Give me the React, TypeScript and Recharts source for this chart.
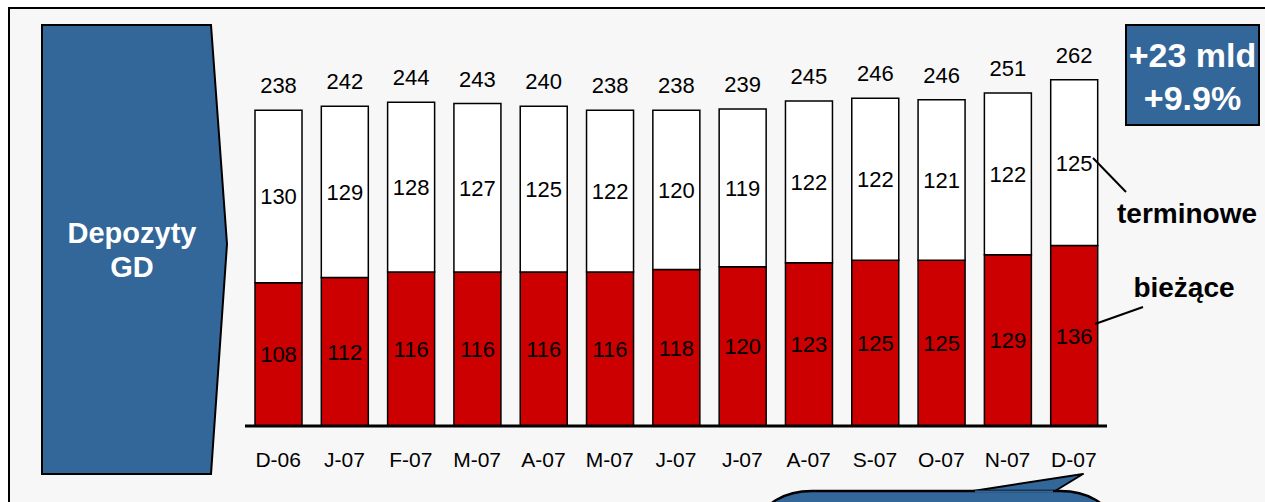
import React from 'react';
import { BarChart, Bar, XAxis, YAxis, LabelList } from 'recharts';

const months = ['D-06', 'J-07', 'F-07', 'M-07', 'A-07', 'M-07', 'J-07', 'J-07', 'A-07', 'S-07', 'O-07', 'N-07', 'D-07'];
const current = [108, 112, 116, 116, 116, 116, 118, 120, 123, 125, 125, 129, 136];
const term = [130, 129, 128, 127, 125, 122, 120, 119, 122, 122, 121, 122, 125];
const totals = [238, 242, 244, 243, 240, 238, 238, 239, 245, 246, 246, 251, 262];

const data = months.map((m, i) => ({ idx: i, month: m, current: current[i], term: term[i], total: totals[i] }));

const FONT = '"Liberation Sans", Arial, sans-serif';
const BLUE = '#336699';

function box(props: any) {
  const vb = props.viewBox && typeof props.viewBox.x === 'number' ? props.viewBox : props;
  return { x: Number(vb.x), y: Number(vb.y), w: Number(vb.width), h: Number(vb.height) };
}

const centerLabel = (props: any) => {
  const { x, y, w, h } = box(props);
  return (
    <text x={x + w / 2} y={y + h / 2} dy={8} textAnchor="middle" fill="#000" fontSize={22} fontFamily={FONT}>
      {props.value}
    </text>
  );
};

const topLabel = (props: any) => {
  const { x, y, w } = box(props);
  return (
    <text x={x + w / 2} y={y - 17} textAnchor="middle" fill="#000" fontSize={22} fontFamily={FONT}>
      {props.value}
    </text>
  );
};

export default function App() {
  return (
    <div style={{ position: 'absolute', left: 0, top: 0, width: 1265, height: 502, background: '#fff', overflow: 'hidden', fontFamily: FONT }}>
      <svg width={1265} height={502} style={{ position: 'absolute', left: 0, top: 0 }}>
        <rect x={9} y={8} width={1300} height={600} fill="#f7f7f7" stroke="#000" strokeWidth={2} />
        <polygon points="42,25 211,25 227,244 211,474 42,474" fill={BLUE} stroke="#000" strokeWidth={2} />
        <text x={132} y={243} textAnchor="middle" fill="#fff" fontWeight="bold" fontSize={29} fontFamily={FONT}>Depozyty</text>
        <text x={132} y={277} textAnchor="middle" fill="#fff" fontWeight="bold" fontSize={29} fontFamily={FONT}>GD</text>
        <rect x={1126} y={25} width={133} height={100} fill={BLUE} stroke="#000" strokeWidth={2} />
        <text x={1192.5} y={67} textAnchor="middle" fill="#fff" fontWeight="bold" fontSize={34} fontFamily={FONT}>+23 mld</text>
        <text x={1192.5} y={110} textAnchor="middle" fill="#fff" fontWeight="bold" fontSize={34} fontFamily={FONT}>+9.9%</text>
        <path d="M 973 491 L 1083 474 L 1055 491 Z" fill={BLUE} stroke="#000" strokeWidth={2} strokeLinejoin="round" />
        <rect x={762} y={491} width={348} height={80} rx={50} ry={30} fill={BLUE} stroke="#000" strokeWidth={2.5} />
        <path d="M 975 491.5 L 1053 491.5" stroke={BLUE} strokeWidth={2} />
      </svg>
      <div style={{ position: 'absolute', left: 0, top: 0 }}>
        <BarChart width={1265} height={502} data={data} margin={{ top: 28, right: 158, bottom: 26, left: 245 }} barSize={47}>
          <XAxis
            dataKey="idx"
            type="category"
            height={50}
            tickLine={false}
            tickSize={6}
            tickMargin={20}
            axisLine={{ stroke: '#000', strokeWidth: 3 }}
            tickFormatter={(v: number) => months[v]}
            tick={{ fill: '#000', fontSize: 21, fontFamily: FONT }}
            interval={0}
          />
          <YAxis hide width={0} domain={[0, 300]} type="number" />
          <Bar dataKey="current" stackId="a" fill="#cc0000" stroke="#000" strokeWidth={1.5} isAnimationActive={false}>
            <LabelList dataKey="current" content={centerLabel} />
          </Bar>
          <Bar dataKey="term" stackId="a" fill="#ffffff" stroke="#000" strokeWidth={1.5} isAnimationActive={false}>
            <LabelList dataKey="term" content={centerLabel} />
            <LabelList dataKey="total" content={topLabel} />
          </Bar>
        </BarChart>
      </div>
      <svg width={1265} height={502} style={{ position: 'absolute', left: 0, top: 0, pointerEvents: 'none' }}>
        <line x1={1093} y1={158} x2={1126} y2={192} stroke="#000" strokeWidth={2} />
        <line x1={1095} y1={324} x2={1143} y2={307} stroke="#000" strokeWidth={2} />
        <text x={1187} y={223} textAnchor="middle" fill="#000" fontWeight="bold" fontSize={28} fontFamily={FONT}>terminowe</text>
        <text x={1184} y={297} textAnchor="middle" fill="#000" fontWeight="bold" fontSize={28} fontFamily={FONT}>bieżące</text>
      </svg>
    </div>
  );
}
